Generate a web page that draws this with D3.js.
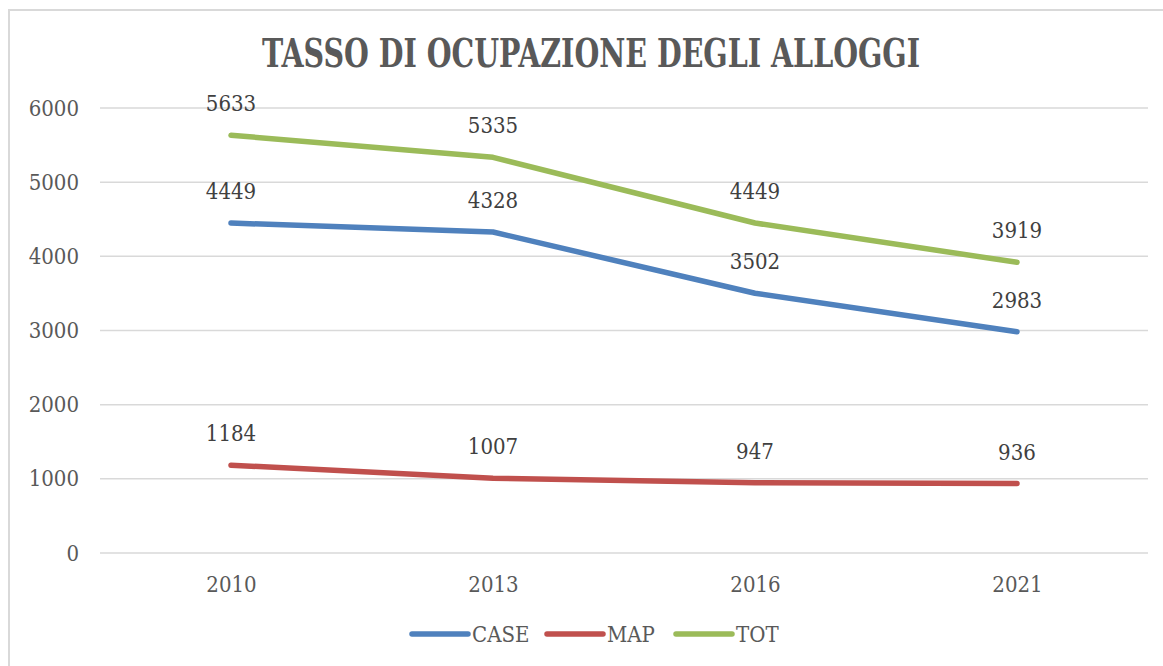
<!DOCTYPE html>
<html><head><meta charset="utf-8">
<script src="https://cdn.jsdelivr.net/npm/d3@7"></script>
<style>
body{margin:0;background:#fff;}
text{font-family:"DejaVu Serif Condensed","DejaVu Serif",serif;font-stretch:condensed;}
</style></head>
<body><svg id="c" width="1163" height="666"></svg>
<script>
const title = "TASSO DI OCUPAZIONE DEGLI ALLOGGI";
const years = ["2010","2013","2016","2021"];
const seriesNames = ["CASE","MAP","TOT"];
const caseVals = [4449,4328,3502,2983];
const mapVals = [1184,1007,947,936];
const totVals = [5633,5335,4449,3919];
const yTicks = [0,1000,2000,3000,4000,5000,6000];
const colors = ["#4F81BD","#C0504D","#9BBB59"];

const series = [caseVals,mapVals,totVals].map((v,i)=>({name:seriesNames[i],values:v,color:colors[i]}));

const svg = d3.select("#c");
// outer border
svg.append("rect").attr("x",9).attr("y",10).attr("width",1170).attr("height",680)
  .attr("fill","none").attr("stroke","#d9d9d9").attr("stroke-width",2);

const x = d3.scalePoint().domain(years).range([100,1148]).padding(0.5);
const y = d3.scaleLinear().domain([0,6000]).range([553,108]);

// gridlines
svg.append("g").selectAll("line").data(yTicks).join("line")
  .attr("x1",100).attr("x2",1148).attr("y1",d=>y(d)).attr("y2",d=>y(d))
  .attr("stroke","#d9d9d9").attr("stroke-width",1.5);

// y axis labels
const yAxis = d3.axisLeft(y).tickValues(yTicks).tickSize(0).tickPadding(0).tickFormat(d3.format("d"));
const ya = svg.append("g").attr("transform","translate(79,0)").call(yAxis);
ya.select(".domain").remove();
ya.selectAll("text").attr("font-size",22).attr("fill","#595959")
  .attr("font-family",'"DejaVu Serif Condensed","DejaVu Serif",serif');

// x axis labels
const xAxis = d3.axisBottom(x).tickSize(0).tickPadding(0);
const xa = svg.append("g").attr("transform","translate(0,576)").call(xAxis);
xa.select(".domain").remove();
xa.selectAll("text").attr("font-size",22).attr("fill","#595959")
  .attr("font-family",'"DejaVu Serif Condensed","DejaVu Serif",serif');

// lines
const line = d3.line().x((d,i)=>x(years[i])).y(d=>y(d));
svg.append("g").selectAll("path").data(series).join("path")
  .attr("d",d=>line(d.values)).attr("fill","none").attr("stroke",d=>d.color)
  .attr("stroke-width",5.5).attr("stroke-linecap","round").attr("stroke-linejoin","round");

// data labels
series.forEach(s=>{
  svg.append("g").selectAll("text").data(s.values).join("text")
    .attr("x",(d,i)=>x(years[i])).attr("y",d=>y(d)-24)
    .attr("text-anchor","middle").attr("font-size",22).attr("fill","#404040")
    .text(d=>d);
});

// title
svg.append("text").attr("x",591).attr("y",67).attr("text-anchor","middle")
  .attr("font-size",40).attr("font-weight","bold").attr("fill","#595959")
  .attr("textLength",658).attr("lengthAdjust","spacingAndGlyphs").text(title);

// legend
const legX = [412,547,676];
const lg = svg.append("g").selectAll("g").data(series).join("g")
  .attr("transform",(d,i)=>`translate(${legX[i]},634)`);
lg.append("line").attr("x1",0).attr("x2",56).attr("stroke",d=>d.color)
  .attr("stroke-width",5.5).attr("stroke-linecap","round");
lg.append("text").attr("x",60).attr("y",8).attr("font-size",22).attr("fill","#595959").text(d=>d.name);
</script></body></html>
